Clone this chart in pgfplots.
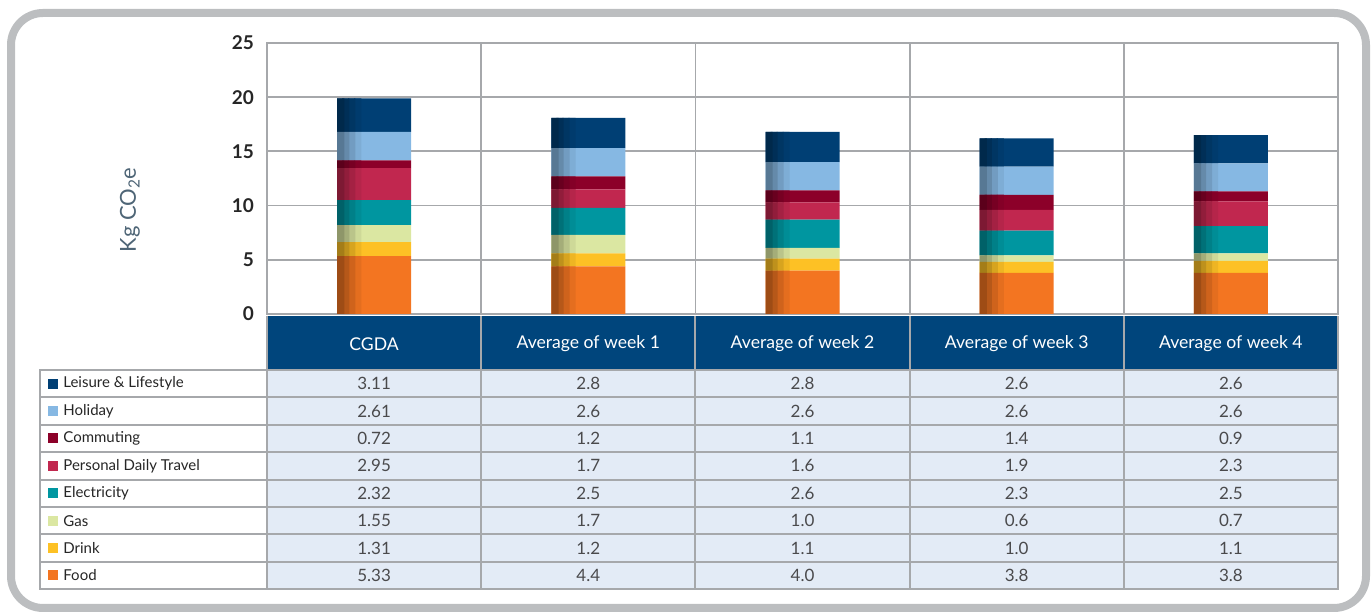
\documentclass[border=0pt]{standalone}
\usepackage{fontspec}
\setmainfont{Lato}
\usepackage{pgfplots}
\usepackage{pgfplotstable}
\pgfplotsset{compat=1.18}

\definecolor{cLeis}{HTML}{003F74}
\definecolor{cHol}{HTML}{86B8E3}
\definecolor{cComm}{HTML}{8C0029}
\definecolor{cPdt}{HTML}{C1274F}
\definecolor{cElec}{HTML}{0096A0}
\definecolor{cGas}{HTML}{DBE7A2}
\definecolor{cDrink}{HTML}{FDC125}
\definecolor{cFood}{HTML}{F37521}
\definecolor{hdr}{HTML}{00457C}
\definecolor{cell}{HTML}{E3EBF6}
\definecolor{gridg}{HTML}{A6A8AB}
\definecolor{frameg}{HTML}{BCBEC0}
\definecolor{ylab}{HTML}{4E6576}
\definecolor{txt}{HTML}{4A4A4C}

% kg CO2e per category
\pgfplotstableread{
idx food drink gas elec pdt comm hol leis
0   5.33 1.31  1.55 2.32 2.95 0.72 2.61 3.11
1   4.4  1.2   1.7  2.5  1.7  1.2  2.6  2.8
2   4.0  1.1   1.0  2.6  1.6  1.1  2.6  2.8
3   3.8  1.0   0.6  2.3  1.9  1.4  2.6  2.6
4   3.8  1.1   0.7  2.5  2.3  0.9  2.6  2.6
}\datatable

\pgfplotsset{
  bars/.style={
    at={(133.5pt,150pt)}, anchor=south west,
    scale only axis, width=535.5pt, height=135.5pt,
    ybar stacked,
    xmin=-0.5, xmax=4.5, ymin=0, ymax=25,
    enlargelimits=false,
  },
  band/.style={bars, hide axis, bar width=3.6pt, bar shift=#1},
}

% one full stack; #1 = how much of the colour is kept (rest is black)
\newcommand\stackbars[1]{%
  \addplot[draw=none, fill=cFood!#1!black]  table[x=idx, y=food]  {\datatable};
  \addplot[draw=none, fill=cDrink!#1!black] table[x=idx, y=drink] {\datatable};
  \addplot[draw=none, fill=cGas!#1!black]   table[x=idx, y=gas]   {\datatable};
  \addplot[draw=none, fill=cElec!#1!black]  table[x=idx, y=elec]  {\datatable};
  \addplot[draw=none, fill=cPdt!#1!black]   table[x=idx, y=pdt]   {\datatable};
  \addplot[draw=none, fill=cComm!#1!black]  table[x=idx, y=comm]  {\datatable};
  \addplot[draw=none, fill=cHol!#1!black]   table[x=idx, y=hol]   {\datatable};
  \addplot[draw=none, fill=cLeis!#1!black]  table[x=idx, y=leis]  {\datatable};
}

\begin{document}
\begin{tikzpicture}
\path[use as bounding box] (0,0) rectangle (686pt,307pt);

\begin{axis}[
    bars, bar width=37pt,
    ytick={0,5,...,25},
    xtick={0.5,1.5,2.5,3.5}, xticklabels={},
    xmajorgrids, ymajorgrids,
    grid style={gridg, line width=0.9pt},
    axis line style={gridg, line width=1.2pt},
    major tick length=0pt,
    yticklabel style={font=\bfseries\fontsize{9.5}{10}\selectfont, black!85, xshift=-3pt},
    /pgf/number format/assume math mode=true,
]
\stackbars{100}
\end{axis}
% darker band at the left edge of the bars (drawn from the inside out, overlapping)
\begin{axis}[band=-8.2pt]\stackbars{94}\end{axis}
\begin{axis}[band=-11.2pt]\stackbars{85}\end{axis}
\begin{axis}[band=-14.2pt]\stackbars{75}\end{axis}
\begin{axis}[band=-16.7pt]\stackbars{65}\end{axis}

\begin{scope}[x=0.5pt, y=-0.5pt, yshift=307pt]
  % outer frame
  \draw[frameg, line width=4pt, rounded corners=16pt] (11,13) rectangle (1366,608);
  % y label
  \node[rotate=90, ylab, font=\fontsize{11}{12}\selectfont] at (130,210) {Kg CO\textsubscript{2}e};
  % table background
  \fill[hdr] (267,316) rectangle (1338,369.5);
  \fill[white] (40,370) rectangle (267,589);
  \fill[cell] (267,370) rectangle (1338,589);
  % header
  \foreach \h [count=\j from 0] in {CGDA, Average of week 1, Average of week 2, Average of week 3, Average of week 4}
    \node[white, font=\fontsize{8.8}{10}\selectfont] at (374.1+214.2*\j, 344) {\h};
  % rows
  \foreach \lab/\col/\c [count=\i from 0] in {Leisure \& Lifestyle/leis/cLeis, Holiday/hol/cHol, Commuting/comm/cComm, Personal Daily Travel/pdt/cPdt, Electricity/elec/cElec, Gas/gas/cGas, Drink/drink/cDrink, Food/food/cFood} {
    \pgfmathsetmacro\yc{370+27.4*\i+13.7}
    \fill[\c] (48,\yc-5) rectangle (58,\yc+5);
    \node[anchor=west, black!85, font=\fontsize{7.5}{9}\selectfont, inner sep=0pt] at (63,\yc) {\lab};
    \foreach \j in {0,...,4} {
      \pgfplotstablegetelem{\j}{\col}\of\datatable
      \node[txt, font=\fontsize{8.5}{10}\selectfont] at (374.1+214.2*\j,\yc) {\pgfplotsretval};
    }
  }
  % table rules
  \foreach \i in {1,...,7}
    \draw[gridg, line width=1pt] (40,370+27.4*\i) -- (1338,370+27.4*\i);
  \foreach \x in {481,695,910,1124}
    \draw[gridg, line width=1pt] (\x,316) -- (\x,589);
  \draw[gridg, line width=1.3pt] (267,316) -- (267,589);
  \draw[gridg, line width=1.3pt] (1338,316) -- (1338,589);
  \draw[gridg, line width=1.3pt] (40,370) rectangle (1338,589);
\end{scope}
\end{tikzpicture}
\end{document}
